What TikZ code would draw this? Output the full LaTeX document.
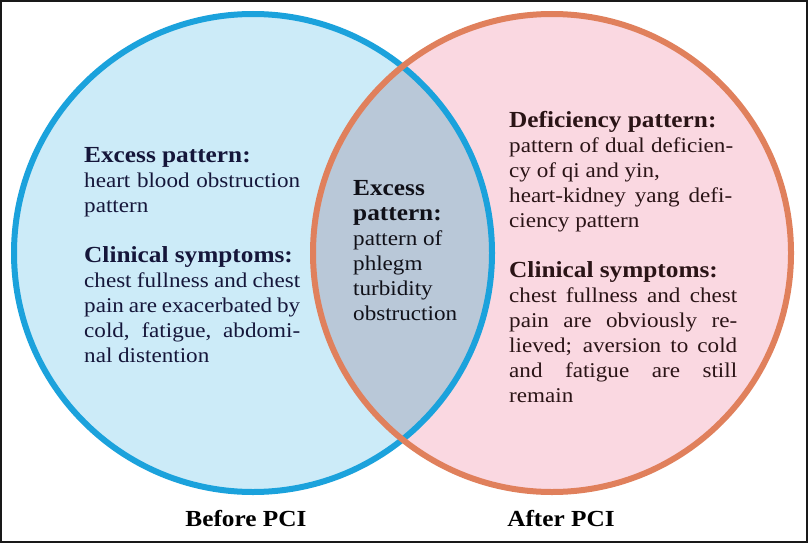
\documentclass[tikz,border=0pt]{standalone}
\usepackage{fontspec}
\setmainfont{Liberation Serif}[FakeStretch=1.1]
\definecolor{bluestroke}{HTML}{1BA2DC}
\definecolor{bluefill}{HTML}{CCEBF8}
\definecolor{orangestroke}{HTML}{E0805C}
\definecolor{pinkfill}{HTML}{FAD8E1}
\definecolor{lensfill}{HTML}{B9C8D8}
\definecolor{lefttext}{HTML}{15163A}
\definecolor{righttext}{HTML}{2A1416}
\definecolor{midtext}{HTML}{101018}
\tikzset{
  body/.style={anchor=base west, inner sep=0pt, font=\fontsize{21}{25}\selectfont},
  head/.style={anchor=base west, inner sep=0pt, font=\fontsize{23}{25}\selectfont\bfseries},
  caption/.style={anchor=base, inner sep=0pt, font=\fontsize{23}{25}\selectfont\bfseries, text=black},
}
\newcommand{\jl}[2]{\makebox[#1][s]{#2}}
\begin{document}
\begin{tikzpicture}[x=1pt,y=-1pt]
\useasboundingbox (0,0) rectangle (808,543);
\fill[white] (0,0) rectangle (808,543);
% circles
\coordinate (cl) at (253,253);
\coordinate (cr) at (552,253);
\fill[bluefill] (cl) circle[radius=239];
\fill[pinkfill] (cr) circle[radius=239];
\begin{scope}
  \clip (cl) circle[radius=239];
  \fill[lensfill] (cr) circle[radius=239];
\end{scope}
\draw[bluestroke, line width=6pt] (cl) circle[radius=239];
\draw[orangestroke, line width=6pt] (cr) circle[radius=239];
% left block
\begin{scope}[every node/.append style={text=lefttext}]
\node[head] (L1) at (84,162) {Excess pattern:};
\node[body] (L2) at (84,187) {\jl{216pt}{heart blood obstruction}};
\node[body] (L3) at (84,212) {pattern};
\node[head] (L4) at (84,262) {Clinical symptoms:};
\node[body] (L5) at (84,287) {\jl{216pt}{chest fullness and chest}};
\node[body] (L6) at (84,312) {\jl{216pt}{pain are exacerbated by}};
\node[body] (L7) at (84,337) {\jl{216pt}{cold, fatigue, abdomi-}};
\node[body] (L8) at (84,362) {nal distention};
\end{scope}
% center block
\begin{scope}[every node/.append style={text=midtext}]
\node[head] (C1) at (353,195) {Excess};
\node[head] (C2) at (353,220) {pattern:};
\node[body] (C3) at (353,245) {pattern of};
\node[body] (C4) at (353,270) {phlegm};
\node[body] (C5) at (353,295) {turbidity};
\node[body] (C6) at (353,320) {obstruction};
\end{scope}
% right block
\begin{scope}[every node/.append style={text=righttext}]
\node[head] (R1) at (509,127) {Deficiency pattern:};
\node[body] (R2) at (509,152) {\jl{224pt}{pattern of dual deficien-}};
\node[body] (R3) at (509,177) {cy of qi and yin,};
\node[body] (R4) at (509,202) {\jl{223pt}{heart-kidney yang defi-}};
\node[body] (R5) at (509,227) {ciency pattern};
\node[head] (R6) at (509,277) {Clinical symptoms:};
\node[body] (R7) at (509,302) {\jl{228pt}{chest fullness and chest}};
\node[body] (R8) at (509,327) {\jl{228pt}{pain are obviously re-}};
\node[body] (R9) at (509,352) {\jl{228pt}{lieved; aversion to cold}};
\node[body] (R10) at (509,377) {\jl{228pt}{and fatigue are still}};
\node[body] (R11) at (509,402) {remain};
\end{scope}
% captions
\node[caption] (before) at (246,526) {Before PCI};
\node[caption] (after) at (561,526) {After PCI};
% frame
\draw[black!90, line width=2pt] (1,1) rectangle (807,542);
\end{tikzpicture}
\end{document}
